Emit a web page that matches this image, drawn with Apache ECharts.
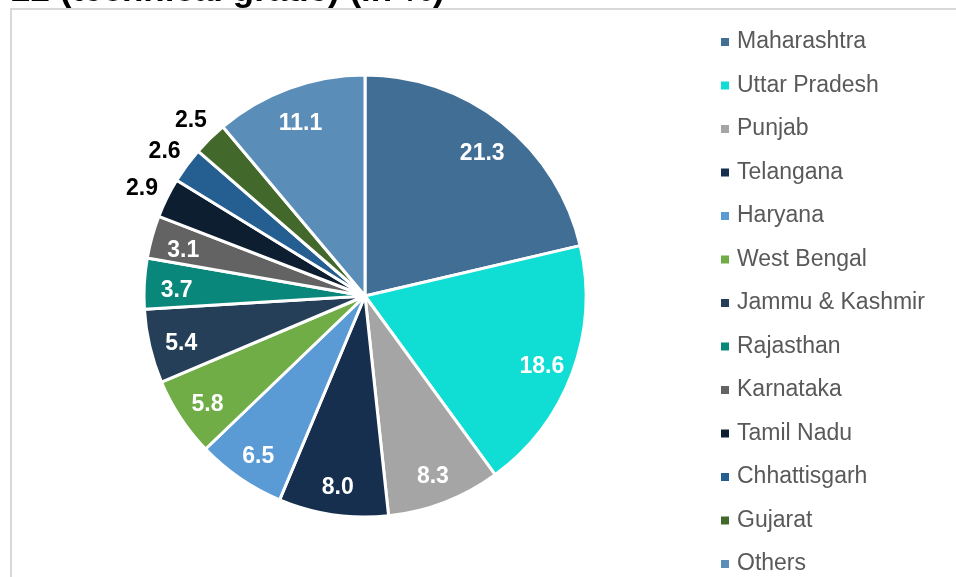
<!DOCTYPE html>
<html>
<head>
<meta charset="utf-8">
<script src="https://cdn.jsdelivr.net/npm/echarts@6/dist/echarts.min.js"></script>
<style>
  html, body { margin: 0; padding: 0; background: #fff; }
  #chart { width: 956px; height: 577px; }
</style>
</head>
<body>
<div id="chart"></div>
<script>
const states = ['Maharashtra', 'Uttar Pradesh', 'Punjab', 'Telangana', 'Haryana', 'West Bengal',
  'Jammu & Kashmir', 'Rajasthan', 'Karnataka', 'Tamil Nadu', 'Chhattisgarh', 'Gujarat', 'Others'];
const shares = [21.3, 18.6, 8.3, 8.0, 6.5, 5.8, 5.4, 3.7, 3.1, 2.9, 2.6, 2.5, 11.1];
const colors = ['#416e94', '#10ddd4', '#a5a5a5', '#172f4f', '#5b9bd5', '#70ad47',
  '#243f57', '#0a877b', '#636363', '#0d1e30', '#255e91', '#43682b', '#5a8db8'];
// small slices get their number outside the pie
const outside = ['Tamil Nadu', 'Chhattisgarh', 'Gujarat'];

const chart = echarts.init(document.getElementById('chart'));

const R = 221;
const center = [365, 296];

const slices = states.map((name, i) => ({ name: name, value: shares[i] }));
const innerLabels = states.map((name, i) => ({
  name: name, value: shares[i], label: { show: !outside.includes(name) }
}));
const outerLabels = states.map((name, i) => ({
  name: name, value: shares[i], label: { show: outside.includes(name) }
}));

const labelFont = {
  position: 'inside',
  formatter: p => p.value.toFixed(1),
  fontFamily: 'Liberation Sans, Arial',
  fontSize: 23,
  fontWeight: 'bold'
};

// transparent ring whose only job is to hold value labels at a given radius
function labelRing(r0, r1, data, color, offset) {
  return {
    type: 'pie',
    center: center,
    radius: [r0, r1],
    startAngle: 90,
    clockwise: true,
    silent: true,
    avoidLabelOverlap: false,
    itemStyle: { color: 'rgba(0,0,0,0)', borderWidth: 0 },
    emphasis: { disabled: true },
    labelLine: { show: false },
    label: Object.assign({ color: color, offset: offset }, labelFont),
    data: data
  };
}

chart.setOption({
  animation: false,
  color: colors,
  title: {
    text: '22 (technical grade) (in %)',
    left: 6,
    top: -31,
    textStyle: { fontFamily: 'Liberation Sans, Arial', fontSize: 35, fontWeight: 'bold', color: '#000' }
  },
  graphic: [{
    type: 'rect',
    shape: { x: 11, y: 9, width: 1200, height: 1200 },
    style: { fill: 'none', stroke: '#d9d9d9', lineWidth: 2 },
    silent: true
  }],
  legend: {
    orient: 'vertical',
    left: 714,
    top: 25,
    height: 600,
    icon: 'rect',
    itemWidth: 10,
    itemHeight: 10,
    itemGap: 19.5,
    data: states,
    textStyle: {
      fontFamily: 'Liberation Sans, Arial',
      fontSize: 23,
      color: '#595959',
      lineHeight: 24,
      padding: [0, 0, 0, 2]
    }
  },
  series: [
    {
      type: 'pie',
      center: center,
      radius: [0, R],
      startAngle: 90,
      clockwise: true,
      avoidLabelOverlap: false,
      label: { show: false },
      labelLine: { show: false },
      itemStyle: { borderColor: '#fff', borderWidth: 3 },
      emphasis: { disabled: true },
      data: slices
    },
    labelRing(R * 0.68, R, innerLabels, '#fff', [0, 5]),
    labelRing(R + 10, R + 44, outerLabels, '#000', [2, 4])
  ]
});
</script>
</body>
</html>
